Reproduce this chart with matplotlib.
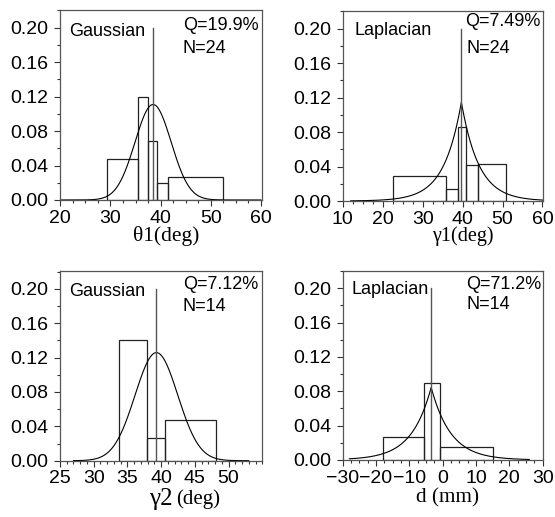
import numpy as np
import matplotlib
matplotlib.use("Agg")
import matplotlib.pyplot as plt
from matplotlib.ticker import MultipleLocator, FormatStrFormatter, FixedLocator

# ---- data -------------------------------------------------------------
# variable-width density histograms (bin edges and heights) per panel
theta1_edges = [29.3, 35.4, 37.5, 39.3, 41.5, 52.5]
theta1_heights = [0.048, 0.119, 0.069, 0.020, 0.027]
theta1_mean, theta1_sigma = 38.5, 3.60

gamma1_edges = [22.6, 35.9, 38.8, 40.9, 43.8, 50.8]
gamma1_heights = [0.029, 0.014, 0.086, 0.042, 0.043]
gamma1_mean, gamma1_scale = 39.7, 4.36

gamma2_edges = [33.75, 37.9, 40.6, 48.2]
gamma2_heights = [0.140, 0.026, 0.047]
gamma2_mean, gamma2_sigma = 39.3, 3.17

d_edges = [-17.9, -5.75, -0.95, 15.1]
d_heights = [0.0266, 0.090, 0.0153]
d_mean, d_scale = -3.45, 5.92

fit_names = ["Gaussian", "Laplacian", "Gaussian", "Laplacian"]
q_labels = ["Q=19.9%", "Q=7.49%", "Q=7.12%", "Q=71.2%"]
n_labels = ["N=24", "N=24", "N=14", "N=14"]
mean_line_top = 0.20

y_ticks = [0.00, 0.04, 0.08, 0.12, 0.16, 0.20]

# ---- style ------------------------------------------------------------
SANS = ["Liberation Sans", "DejaVu Sans"]
SERIF = ["Liberation Serif", "DejaVu Serif"]
plt.rcParams["font.family"] = SANS
spine_col = "#555555"
bar_col = "#222222"
vline_col = "#555555"

fig = plt.figure(figsize=(5.55, 5.17), dpi=100)

positions = [
    [0.1086, 0.6132, 0.3634, 0.3675],
    [0.6175, 0.6112, 0.3614, 0.3675],
    [0.1081, 0.1089, 0.3645, 0.3663],
    [0.6175, 0.1103, 0.3614, 0.3662],
]


def gauss(x, mu, s):
    return np.exp(-0.5 * ((x - mu) / s) ** 2) / (s * np.sqrt(2 * np.pi))


def laplace(x, mu, b):
    return np.exp(-np.abs(x - mu) / b) / (2 * b)


def style_axes(ax, xlim, xmajor, xminor, xlabels):
    ax.set_xlim(*xlim)
    ax.set_ylim(0, 0.2205)
    ax.xaxis.set_major_locator(FixedLocator(xmajor))
    ax.xaxis.set_minor_locator(MultipleLocator(xminor))
    ax.set_xticklabels(xlabels)
    ax.yaxis.set_major_locator(FixedLocator(y_ticks))
    ax.yaxis.set_minor_locator(MultipleLocator(0.02))
    ax.yaxis.set_major_formatter(FormatStrFormatter("%.2f"))
    for s in ax.spines.values():
        s.set_color(spine_col)
        s.set_linewidth(0.9)
    ax.tick_params(which="both", direction="out", colors="#333333",
                   labelcolor="black", labelsize=14, width=0.8)
    ax.tick_params(which="major", length=4)
    ax.tick_params(axis="x", which="major", pad=3)
    ax.tick_params(axis="y", which="major", pad=4.5)
    ax.tick_params(which="minor", length=2.5)


def draw_panel(ax, edges, heights, mean, scale, kind, xlim):
    edges = np.asarray(edges)
    ax.bar(edges[:-1], heights, width=np.diff(edges), align="edge",
           facecolor="none", edgecolor=bar_col, linewidth=0.9)
    x = np.linspace(xlim[0], xlim[1], 800)
    y = gauss(x, mean, scale) if kind == "Gaussian" else laplace(x, mean, scale)
    ax.plot(x, y, color="black", linewidth=0.8)
    ax.plot([mean, mean], [0, mean_line_top], color=vline_col, linewidth=1.0)


# panel (a) theta1
ax1 = fig.add_axes(positions[0])
draw_panel(ax1, theta1_edges, theta1_heights, theta1_mean, theta1_sigma,
           "Gaussian", (20, 60))
style_axes(ax1, (20, 60.2), [20, 30, 40, 50, 60], 2.5,
           ["20", "30", "40", "50", "60"])

# panel (b) gamma1
ax2 = fig.add_axes(positions[1])
draw_panel(ax2, gamma1_edges, gamma1_heights, gamma1_mean, gamma1_scale,
           "Laplacian", (12, 60))
style_axes(ax2, (10, 60.2), [10, 20, 30, 40, 50, 60], 2.5,
           ["10", "20", "30", "40", "50", "60"])

# panel (c) gamma2
ax3 = fig.add_axes(positions[2])
draw_panel(ax3, gamma2_edges, gamma2_heights, gamma2_mean, gamma2_sigma,
           "Gaussian", (27, 53))
style_axes(ax3, (25, 55), [25, 30, 35, 40, 45, 50], 1,
           ["25", "30", "35", "40", "45", "50"])

# panel (d) d
ax4 = fig.add_axes(positions[3])
draw_panel(ax4, d_edges, d_heights, d_mean, d_scale,
           "Laplacian", (-28, 26))
style_axes(ax4, (-30, 30.2), [-30, -20, -10, 0, 10, 20, 30], 2.5,
           ["\u221230", "\u221220", "\u221210", "0", "10", "20", "30"])

axes = [ax1, ax2, ax3, ax4]

# in-plot annotations
name_xy = [(0.043, 0.889), (0.057, 0.900), (0.045, 0.894), (0.045, 0.900)]
q_xy = [(0.608, 0.916), (0.608, 0.944), (0.607, 0.929), (0.614, 0.926)]
n_xy = [(0.608, 0.795), (0.618, 0.804), (0.607, 0.815), (0.618, 0.820)]
for ax, nm, q, n, pn, pq, pnn in zip(axes, fit_names, q_labels, n_labels,
                                    name_xy, q_xy, n_xy):
    ax.text(*pn, nm, transform=ax.transAxes, ha="left", va="center",
            fontsize=13)
    ax.text(*pq, q, transform=ax.transAxes, ha="left", va="center",
            fontsize=13)
    ax.text(*pnn, n, transform=ax.transAxes, ha="left", va="center",
            fontsize=13)

# axis titles (serif)
ax1.text(0.527, -0.192, "\u03b81(deg)", transform=ax1.transAxes,
         ha="center", va="center", fontsize=15.5, family=SERIF)
ax2.text(0.600, -0.185, "\u03b31(deg)", transform=ax2.transAxes,
         ha="center", va="center", fontsize=14.5, family=SERIF)
ax3.text(0.555, -0.200, "\u03b32", transform=ax3.transAxes,
         ha="right", va="center", fontsize=18, family=SERIF)
ax3.text(0.572, -0.204, "(deg)", transform=ax3.transAxes,
         ha="left", va="center", fontsize=15, family=SERIF)
ax4.text(0.52, -0.198, "d (mm)", transform=ax4.transAxes,
         ha="center", va="center", fontsize=15.3, family=SERIF)

fig.savefig("out.png", dpi=100)
